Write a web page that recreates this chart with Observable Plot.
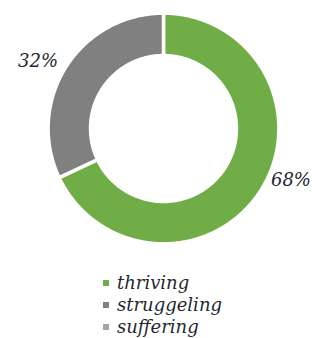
<!DOCTYPE html>
<html>
<head>
<meta charset="utf-8">
<script src="https://cdn.jsdelivr.net/npm/d3@7"></script>
<script src="https://cdn.jsdelivr.net/npm/@observablehq/plot@0.6"></script>
<style>
  body { margin: 0; background: #fff; width: 326px; height: 338px; overflow: hidden; }
  #chart svg { display: block; }
  .legend { margin-top: 12px; padding-left: 103px; font-family: "DejaVu Serif", serif; font-style: italic; font-size: 18px; color: #252830; }
  .legend .row { height: 22px; line-height: 22px; display: flex; align-items: center; }
  .legend .sw { width: 6px; height: 6px; margin-right: 8px; flex: none; }
</style>
</head>
<body>
<div id="chart"></div>
<script>
const categories = ["thriving", "struggeling", "suffering"];
const values = [68, 32, 0];
const valueLabels = ["68%", "32%", ""];
const colors = ["#70AD47", "#808080", "#A5A5A5"];

const innerR = 0.64, outerR = 1.012;
const pie = d3.pie().sort(null).value(d => d.value)(categories.map((c, i) => ({category: c, value: values[i], label: valueLabels[i]})));

// ring polygons sampled along each slice's arc
const pts = [];
for (const s of pie) {
  if (s.data.value <= 0) continue;
  const n = Math.max(2, Math.ceil((s.endAngle - s.startAngle) / 0.01));
  const ring = [];
  for (let k = 0; k <= n; k++) { const a = s.startAngle + (s.endAngle - s.startAngle) * k / n; ring.push([outerR * Math.sin(a), outerR * Math.cos(a)]); }
  for (let k = n; k >= 0; k--) { const a = s.startAngle + (s.endAngle - s.startAngle) * k / n; ring.push([innerR * Math.sin(a), innerR * Math.cos(a)]); }
  ring.push(ring[0]);
  for (const [x, y] of ring) pts.push({category: s.data.category, x, y});
}
const labelR = 1.22;
const labelData = pie.filter(s => s.data.value > 0).map(s => {
  const a = (s.startAngle + s.endAngle) / 2;
  return {category: s.data.category, label: s.data.label, x: labelR * Math.sin(a), y: labelR * Math.cos(a)};
});

const textOpts = {x: "x", y: "y", text: "label", fontFamily: "DejaVu Serif", fontStyle: "italic", fontSize: 18, fill: "#252830"};
const chart = Plot.plot({
  width: 326, height: 260,
  margin: 0,
  x: {domain: [-1, 1], range: [49, 277], axis: null},
  y: {domain: [-1, 1], range: [242, 14], axis: null},
  color: {domain: categories, range: colors},
  marks: [
    Plot.line(pts, {x: "x", y: "y", z: "category", fill: "category", stroke: "white", strokeWidth: 3.5, curve: "linear-closed"}),
    Plot.text(labelData.filter(d => d.category === "thriving"), {...textOpts, dx: 10, dy: -23}),
    Plot.text(labelData.filter(d => d.category === "struggeling"), {...textOpts, dx: -8, dy: 7})
  ]
});
document.getElementById("chart").appendChild(chart);

const legend = document.createElement("div");
legend.className = "legend";
categories.forEach((c, i) => {
  const row = document.createElement("div");
  row.className = "row";
  const sw = document.createElement("span");
  sw.className = "sw";
  sw.style.background = colors[i];
  const t = document.createElement("span");
  t.textContent = c;
  row.appendChild(sw); row.appendChild(t);
  legend.appendChild(row);
});
document.body.appendChild(legend);
</script>
</body>
</html>
